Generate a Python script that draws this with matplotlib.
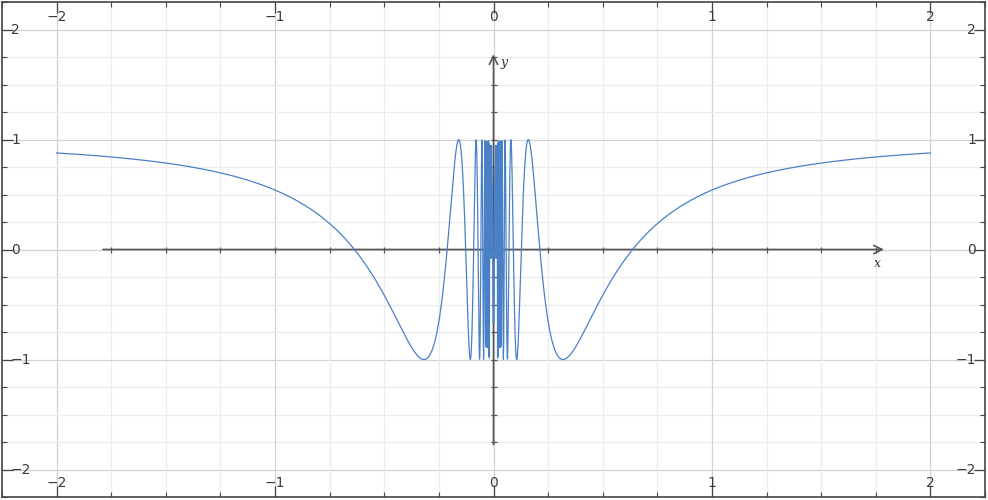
import numpy as np
import matplotlib.pyplot as plt
from matplotlib.ticker import MultipleLocator
import matplotlib.transforms as mtrans

# plotted function y = cos(1/x) on [-2, 2]
x_min, x_max = -2.0, 2.0
n_samples = 3001
view = 2.25            # visible range in both directions
axis_len = 1.8         # length of the drawn arrow axes
label_vals = [-2, -1, 0, 1, 2]
step = 0.25

x = np.linspace(x_min, x_max, n_samples)
x = x[x != 0]
y = np.cos(1.0 / x)

fig = plt.figure(figsize=(9.88, 5.0), dpi=100)
ax = fig.add_axes([2/988, 3/500, 983/988, 495/500])
ax.set_xlim(-view, view)
ax.set_ylim(-view, view)

# grid
for v in np.arange(-2, 2.01, step):
    major = abs(v - round(v)) < 1e-9
    c = '#d2d2d2' if major else '#ececec'
    ax.axvline(v, color=c, lw=0.9, zorder=0)
    ax.axhline(v, color=c, lw=0.9, zorder=0)

# frame ticks inward
for axis in (ax.xaxis, ax.yaxis):
    axis.set_major_locator(MultipleLocator(1))
    axis.set_minor_locator(MultipleLocator(step))
ax.tick_params(which='both', direction='in', top=True, right=True,
               labelbottom=False, labelleft=False, colors='#444444')
ax.tick_params(which='major', length=8, width=0.9)
ax.tick_params(which='minor', length=3.5, width=0.8)
for s in ax.spines.values():
    s.set_color('#444444')
    s.set_linewidth(1.2)

# frame labels inside
lab_kw = dict(fontsize=10, color='#3a3a3a', family='DejaVu Sans')
tx = ax.get_xaxis_transform()
ty = ax.get_yaxis_transform()
for v in label_vals:
    t = '\u2212%d' % abs(v) if v < 0 else '%d' % v
    ax.text(v, 1, t, transform=tx + mtrans.ScaledTranslation(0, -0.15, fig.dpi_scale_trans),
            ha='center', va='center', **lab_kw)
    ax.text(v, 0, t, transform=tx + mtrans.ScaledTranslation(0, 0.14, fig.dpi_scale_trans),
            ha='center', va='center', **lab_kw)
    ax.text(0, v, t, transform=ty + mtrans.ScaledTranslation(0.09, 0, fig.dpi_scale_trans),
            ha='left', va='center', **lab_kw)
    ax.text(1, v, t, transform=ty + mtrans.ScaledTranslation(-0.09, 0, fig.dpi_scale_trans),
            ha='right', va='center', **lab_kw)

# arrow axes
axc = '#555555'
ax.annotate('', xy=(axis_len, 0), xytext=(-axis_len, 0),
            arrowprops=dict(arrowstyle='->,head_length=0.6,head_width=0.3', color=axc, lw=1.2))
ax.annotate('', xy=(0, axis_len), xytext=(0, -axis_len),
            arrowprops=dict(arrowstyle='->,head_length=0.6,head_width=0.3', color=axc, lw=1.2))
tk = np.arange(-1.75, 1.76, step)
tk = tk[np.abs(tk) > 1e-9]
ax.plot(tk, np.zeros_like(tk), ls='none', marker='|', ms=4.5, mew=0.9, color=axc)
ax.plot(np.zeros_like(tk), tk, ls='none', marker='_', ms=4.5, mew=0.9, color=axc)
ax.text(1.76, -0.13, 'x', fontsize=9, style='italic', family='DejaVu Serif',
        color='#333333', ha='center', va='center')
ax.text(0.05, 1.70, 'y', fontsize=9, style='italic', family='DejaVu Serif',
        color='#333333', ha='center', va='center')

# curve
ax.plot(x, y, color='#4a80c8', lw=0.9, zorder=3)

fig.savefig('out.png', dpi=100)
